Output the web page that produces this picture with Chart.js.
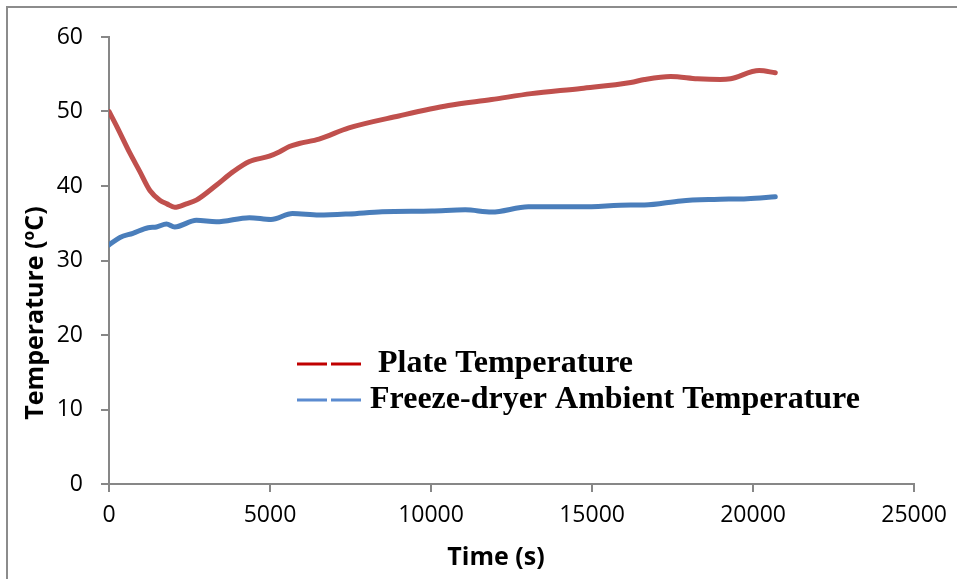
<!DOCTYPE html>
<html>
<head>
<meta charset="utf-8">
<title>Plate and ambient temperature</title>
<script src="https://cdn.jsdelivr.net/npm/chart.js@4.4.1/dist/chart.umd.min.js"></script>
<style>
  html, body { margin: 0; padding: 0; background: #fff; }
  #wrap { position: relative; width: 957px; height: 579px; }
  #frame {
    position: absolute; left: 6px; top: 6px; right: 0; bottom: 0;
    border-top: 2px solid #8c8c8c; border-left: 2px solid #8c8c8c;
    pointer-events: none;
  }
</style>
</head>
<body>
<div id="wrap">
  <canvas id="chartTemp" width="957" height="579"></canvas>
  <div id="frame"></div>
</div>
<script>
// --- datos ---
const plateTime = [0, 240, 650, 950, 1270, 1577, 1800, 2040, 2400, 2710, 3330, 3845, 4360, 4980,
  5300, 5600, 5905, 6520, 7450, 9000, 10540, 11880, 13110, 14660, 16200, 16630, 17440, 18270,
  18980, 19300, 20190, 20690];
const plateTemp = [50.0, 48.0, 44.4, 42.0, 39.4, 38.1, 37.6, 37.15, 37.6, 38.1, 40.1, 41.9, 43.3, 44.0,
  44.6, 45.3, 45.7, 46.3, 47.8, 49.4, 50.8, 51.6, 52.4, 53.1, 53.9, 54.3, 54.7, 54.4,
  54.3, 54.4, 55.5, 55.2];

const ambientTime = [0, 340, 742, 1216, 1475, 1784, 2040, 2712, 3330, 4360, 5030, 5700, 6520, 7450,
  8480, 10030, 11060, 11880, 13020, 14660, 16200, 16630, 17760, 18790, 19820, 20690];
const ambientTemp = [32.1, 33.1, 33.65, 34.4, 34.5, 34.9, 34.5, 35.4, 35.2, 35.75, 35.5, 36.3, 36.1, 36.25,
  36.55, 36.65, 36.8, 36.5, 37.2, 37.2, 37.45, 37.45, 38.0, 38.2, 38.3, 38.55];

const seriesNames = [" Plate Temperature", "Freeze-dryer Ambient Temperature"];
const xTicks = [0, 5000, 10000, 15000, 20000, 25000];
const yTicks = [0, 10, 20, 30, 40, 50, 60];

const AXIS_GRAY = "#878787";
const toPoints = (xs, ys) => xs.map((x, i) => ({ x: x, y: ys[i] }));

// leyenda dentro del area del grafico, con linea de dos trazos
const legendInside = {
  id: "legendInside",
  afterDraw(chart) {
    const ctx = chart.ctx;
    const rows = [
      { y: 364, textY: 372 },
      { y: 400, textY: 408 }
    ];
    ctx.save();
    chart.data.datasets.forEach((ds, i) => {
      const r = rows[i];
      ctx.strokeStyle = ds.legendColor;
      ctx.lineWidth = 3;
      ctx.beginPath();
      ctx.moveTo(297, r.y); ctx.lineTo(327, r.y);
      ctx.moveTo(331, r.y); ctx.lineTo(361, r.y);
      ctx.stroke();
      ctx.fillStyle = "#000";
      ctx.font = "bold 32px 'Liberation Serif', 'Times New Roman', serif";
      ctx.textBaseline = "alphabetic";
      ctx.textAlign = "left";
      ctx.fillText(ds.label, 370, r.textY);
    });
    ctx.restore();
  }
};

// titulos de los ejes
const axisTitles = {
  id: "axisTitles",
  afterDraw(chart) {
    const ctx = chart.ctx;
    ctx.save();
    ctx.fillStyle = "#000";
    ctx.font = "bold 25px 'Open Sans', sans-serif";
    ctx.textAlign = "center";
    ctx.textBaseline = "middle";
    ctx.fillText("Time (s)", 496, 558);
    ctx.translate(36, 313);
    ctx.rotate(-Math.PI / 2);
    ctx.fillText("Temperature (ºC)", 0, 0);
    ctx.restore();
  }
};

const chart = new Chart(document.getElementById("chartTemp"), {
  type: "line",
  data: {
    datasets: [
      {
        label: seriesNames[0],
        data: toPoints(plateTime, plateTemp),
        borderColor: "#c0504d",
        legendColor: "#c00000",
        borderWidth: 5,
        pointRadius: 0,
        cubicInterpolationMode: "monotone",
        borderCapStyle: "round",
        borderJoinStyle: "round"
      },
      {
        label: seriesNames[1],
        data: toPoints(ambientTime, ambientTemp),
        borderColor: "#4a7ebb",
        legendColor: "#5b8bd0",
        borderWidth: 5,
        pointRadius: 0,
        cubicInterpolationMode: "monotone",
        borderCapStyle: "round",
        borderJoinStyle: "round"
      }
    ]
  },
  options: {
    responsive: false,
    animation: false,
    layout: { padding: { left: 0, top: 37, right: 36, bottom: 0 } },
    plugins: {
      legend: { display: false },
      tooltip: { enabled: false }
    },
    scales: {
      x: {
        type: "linear",
        min: xTicks[0],
        max: xTicks[xTicks.length - 1],
        afterFit: s => { s.height = 95; },
        afterBuildTicks: s => { s.ticks = xTicks.map(v => ({ value: v })); },
        grid: { display: true, drawOnChartArea: false, drawTicks: true, tickLength: 8, color: AXIS_GRAY, lineWidth: 2 },
        border: { display: true, color: AXIS_GRAY, width: 2 },
        ticks: {
          color: "#000",
          padding: 10,
          maxRotation: 0,
          callback: v => String(v),
          font: { family: "'Open Sans', sans-serif", size: 23 }
        }
      },
      y: {
        min: yTicks[0],
        max: yTicks[yTicks.length - 1],
        afterFit: s => { s.width = 109; },
        afterBuildTicks: s => { s.ticks = yTicks.map(v => ({ value: v })); },
        grid: { display: true, drawOnChartArea: false, drawTicks: true, tickLength: 8, color: AXIS_GRAY, lineWidth: 2 },
        border: { display: true, color: AXIS_GRAY, width: 2 },
        ticks: {
          color: "#000",
          padding: 18,
          callback: v => String(v),
          font: { family: "'Open Sans', sans-serif", size: 23 }
        }
      }
    }
  },
  plugins: [legendInside, axisTitles]
});
</script>
</body>
</html>
